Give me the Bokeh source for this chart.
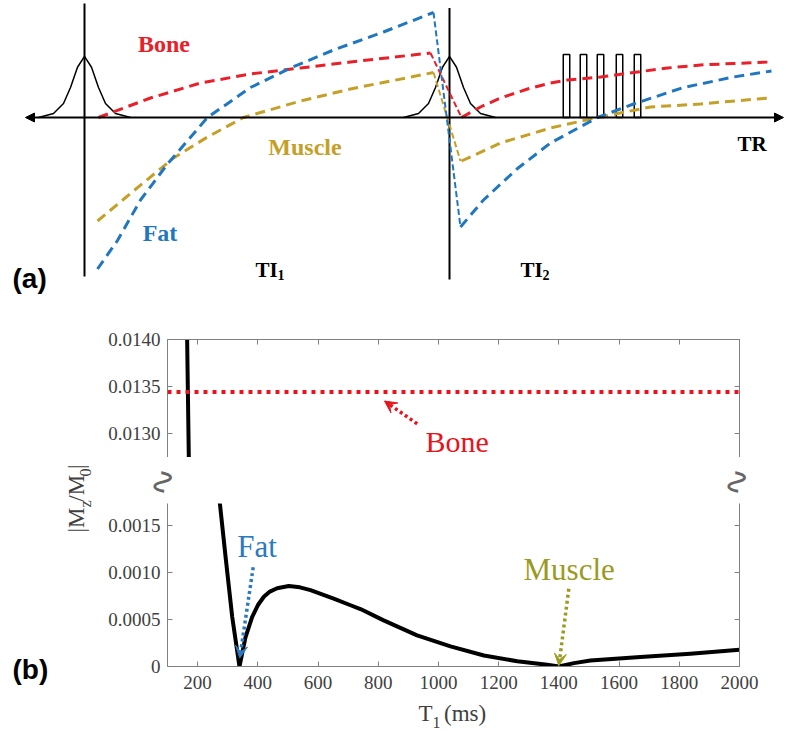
import math
from bokeh.plotting import figure
from bokeh.layouts import column
from bokeh.models import (Range1d, LinearAxis, FixedTicker, Label, Arrow, NormalHead,
                          VeeHead, Span, PrintfTickFormatter, CustomJSTickFormatter)
from bokeh.embed import file_html
from bokeh.resources import INLINE

# ------------------------------------------------------------------
# (a) schematic data  (time in arbitrary units, Mz in arbitrary units)
# ------------------------------------------------------------------
pulse_t = [0, 365]                      # inversion pulses (TI1 apart)
pulse_dt = [-46, -31, -21, -14, -7, 0, 7, 14, 21, 31, 46]
pulse_shape = [0, 0.027, 0.093, 0.2, 0.335, 0.407, 0.335, 0.2, 0.093, 0.027, 0]
marker_top = [0.76, 0.73]
marker_bottom = [-1.06, -1.08]
readout_t = [482, 499, 516, 535, 553]
readout_h = 0.42
readout_w = 6.5
time_axis = [-59, 699]

bone1_t = [14, 66, 116, 166, 216, 266, 346]
bone1_m = [0.0, 0.13, 0.23, 0.29, 0.33, 0.37, 0.43]
bone_drop_t = [346, 377]
bone_drop_m = [0.43, 0.0]
bone2_t = [377, 396, 416, 443, 466, 483, 516, 549, 583, 616, 649, 686]
bone2_m = [0.0, 0.07, 0.13, 0.19, 0.23, 0.25, 0.27, 0.30, 0.33, 0.35, 0.36, 0.37]

fat1_t = [13, 33, 56, 83, 123, 166, 206, 249, 299, 349]
fat1_m = [-1.01, -0.82, -0.55, -0.31, 0.0, 0.20, 0.33, 0.45, 0.57, 0.70]
fat_drop_t = [349, 376]
fat_drop_m = [0.70, -0.73]
fat2_t = [376, 399, 433, 466, 513, 549, 599, 649, 687]
fat2_m = [-0.73, -0.55, -0.34, -0.17, 0.0, 0.09, 0.20, 0.27, 0.31]

mus1_t = [13, 49, 89, 123, 159, 216, 266, 349]
mus1_m = [-0.69, -0.49, -0.27, -0.13, 0.0, 0.11, 0.19, 0.30]
mus_drop_t = [349, 376]
mus_drop_m = [0.30, -0.29]
mus2_t = [377, 416, 466, 513, 566, 616, 684]
mus2_m = [-0.29, -0.17, -0.07, 0.0, 0.07, 0.09, 0.13]

# ------------------------------------------------------------------
# (b) |Mz/M0| versus T1
# ------------------------------------------------------------------
t1_ms = [158, 165, 171, 180, 190, 200, 215, 230, 245, 260, 274, 293, 315, 339,
         359, 381, 400, 420, 440, 464, 503, 540, 575, 652, 708, 741, 818, 929,
         1040, 1151, 1262, 1361, 1400, 1450, 1505, 1671, 1837, 2000]
mz_abs = [0.0149, 0.01405, 0.01270, 0.0109, 0.0092, 0.0078, 0.0060, 0.0045,
          0.0033, 0.0024, 0.00173, 0.00116, 0.000525, 0.0,
          0.00031, 0.000525, 0.00065, 0.00074, 0.000795, 0.00083, 0.000854,
          0.00084, 0.00081, 0.00072, 0.00065, 0.00061, 0.00049, 0.00033,
          0.000213, 0.000117, 0.000056, 0.000018, 0.0, 0.000036, 0.000064, 0.0001,
          0.000135, 0.000177]
bone_level = 0.01344
fat_null_t1 = 340
muscle_null_t1 = 1400

x_ticks = [200, 400, 600, 800, 1000, 1200, 1400, 1600, 1800, 2000]
y_ticks_upper = [0.0130, 0.0135, 0.0140]
y_ticks_lower = [0.0, 0.0005, 0.0010, 0.0015]
x_limits = (100, 2000)
upper_limits = (0.012743, 0.0140)
lower_limits = (0.0, 0.00173)

# ------------------------------------------------------------------
RED_A, BLUE_A, GOLD_A = "#e8202a", "#2077c0", "#c5a028"
RED_B, BLUE_B, OLIVE_B = "#e8141c", "#2a7abf", "#9a9a22"
SERIF = "Liberation Serif"
SANS = "Liberation Sans"
AXC = "#808080"
TXC = "#404040"
NB = "\u00a0"

# ---------------- panel (a) ----------------
pa = figure(width=796, height=300, x_range=Range1d(-84, 712), y_range=Range1d(-1.22, 0.78),
            output_backend="svg", toolbar_location=None, min_border=0,
            x_axis_location=None, y_axis_location=None)
pa.outline_line_color = None
pa.xgrid.visible = False
pa.ygrid.visible = False

for c in pulse_t:
    pa.line([c + d for d in pulse_dt], pulse_shape, line_color="black", line_width=1.5)
pa.segment(x0=pulse_t, y0=marker_bottom, x1=pulse_t, y1=marker_top,
           line_color="black", line_width=2)
pa.rect(x=readout_t, y=[readout_h / 2] * len(readout_t), width=readout_w, height=readout_h,
        fill_color=None, line_color="black", line_width=1.5)
pa.add_layout(Arrow(x_start=time_axis[0], y_start=0, x_end=time_axis[1], y_end=0,
                    line_color="black", line_width=2,
                    start=NormalHead(size=9, fill_color="black", line_color="black"),
                    end=NormalHead(size=9, fill_color="black", line_color="black")))

thick = dict(line_width=3, line_dash="10 6")
thin = dict(line_width=2, line_dash="6 3")
for (t, m, col, sty) in [
        (bone1_t, bone1_m, RED_A, thick), (bone_drop_t, bone_drop_m, RED_A, thin), (bone2_t, bone2_m, RED_A, thick),
        (mus1_t, mus1_m, GOLD_A, thick), (mus_drop_t, mus_drop_m, GOLD_A, thin), (mus2_t, mus2_m, GOLD_A, thick),
        (fat1_t, fat1_m, BLUE_A, thick), (fat_drop_t, fat_drop_m, BLUE_A, thin), (fat2_t, fat2_m, BLUE_A, thick)]:
    pa.line(t, m, line_color=col, **sty)


def lab(p, x, y, text, size, color="black", font=SERIF, style="normal",
        align="left", angle=0, place=None):
    l = Label(x=x, y=y, text=text, text_font=font, text_font_size=f"{size}px",
              text_font_style=style, text_color=color, text_align=align,
              text_baseline="middle", angle=angle)
    if place is None:
        p.add_layout(l)
    else:
        p.add_layout(l, place)


def pa_xy(xp, yp):
    return xp - 84, (117 - yp) / 150


lab(pa, *pa_xy(163.5, 43), "Bone", 24, RED_A, style="bold", align="center")
lab(pa, *pa_xy(304.5, 146), "Muscle", 24, GOLD_A, style="bold", align="center")
lab(pa, *pa_xy(159.5, 232), "Fat", 24, BLUE_A, style="bold", align="center")
lab(pa, *pa_xy(255, 269), "TI", 21, style="bold")
lab(pa, *pa_xy(277, 274), "1", 14, style="bold")
lab(pa, *pa_xy(520, 269), "TI", 21, style="bold")
lab(pa, *pa_xy(542, 274), "2", 14, style="bold")
lab(pa, *pa_xy(737, 143.5), "TR", 21, style="bold")
lab(pa, *pa_xy(12, 278), "(a)", 28, font=SANS, style="bold")

# ---------------- panel (b) geometry ----------------
FRAME_L, FRAME_R = 167, 739
B1_PAGE_TOP, B1_FRAME_TOP, B1_FRAME_BOT = 300, 339, 457
B2_PAGE_TOP, B2_FRAME_TOP, B2_FRAME_BOT = 457, 503, 666


def to_x(xp):
    return x_limits[0] + (xp - FRAME_L) * (x_limits[1] - x_limits[0]) / (FRAME_R - FRAME_L)


def b1(xp, yp):
    lo, hi = upper_limits
    return to_x(xp), lo + (B1_FRAME_BOT - yp) * (hi - lo) / (B1_FRAME_BOT - B1_FRAME_TOP)


def b2(xp, yp):
    lo, hi = lower_limits
    return to_x(xp), lo + (B2_FRAME_BOT - yp) * (hi - lo) / (B2_FRAME_BOT - B2_FRAME_TOP)


x_rng = Range1d(*x_limits)


def style_axis(ax, labels=True):
    ax.axis_line_color = AXC
    ax.major_tick_line_color = AXC
    ax.minor_tick_line_color = None
    ax.major_tick_in = 5
    ax.major_tick_out = 0
    ax.major_label_text_font = SERIF
    ax.major_label_text_font_size = "19px"
    ax.major_label_text_color = TXC
    if not labels:
        ax.formatter = CustomJSTickFormatter(code="return ''")
        ax.major_label_standoff = 0


pb1 = figure(width=796, height=B2_PAGE_TOP - B1_PAGE_TOP, x_range=x_rng,
             y_range=Range1d(*upper_limits), output_backend="svg", toolbar_location=None,
             x_axis_location=None, y_axis_location=None,
             min_border_left=FRAME_L, min_border_right=796 - FRAME_R,
             min_border_top=B1_FRAME_TOP - B1_PAGE_TOP, min_border_bottom=0)
pb1.outline_line_color = None
pb1.xgrid.visible = False
pb1.ygrid.visible = False

ax = LinearAxis(ticker=FixedTicker(ticks=y_ticks_upper), formatter=PrintfTickFormatter(format="%.4f"))
style_axis(ax)
ax.major_label_standoff = 7
pb1.add_layout(ax, "left")
ax = LinearAxis(ticker=FixedTicker(ticks=y_ticks_upper))
style_axis(ax, labels=False)
pb1.add_layout(ax, "right")
ax = LinearAxis(ticker=FixedTicker(ticks=x_ticks))
style_axis(ax, labels=False)
pb1.add_layout(ax, "above")

pb1.add_layout(Span(location=bone_level, dimension="width", line_color=RED_B,
                    line_width=4, line_dash="4 5"))
pb1.line(t1_ms, mz_abs, line_color="black", line_width=4, line_join="round")

lab(pb1, *b1(425, 440.5), "Bone", 30, RED_B)
sx, sy = b1(416.7, 423.3)
ex, ey = b1(384, 400.5)
pb1.add_layout(Arrow(x_start=sx, y_start=sy, x_end=ex, y_end=ey, line_color=RED_B,
                     line_width=3.5, line_dash="3 3",
                     end=VeeHead(size=12, fill_color=RED_B, line_color=RED_B)))

pb2 = figure(width=796, height=731 - B2_PAGE_TOP, x_range=x_rng,
             y_range=Range1d(*lower_limits), output_backend="svg", toolbar_location=None,
             x_axis_location=None, y_axis_location=None,
             min_border_left=FRAME_L, min_border_right=796 - FRAME_R,
             min_border_top=B2_FRAME_TOP - B2_PAGE_TOP, min_border_bottom=731 - B2_FRAME_BOT)
pb2.outline_line_color = None
pb2.xgrid.visible = False
pb2.ygrid.visible = False

ax = LinearAxis(ticker=FixedTicker(ticks=y_ticks_lower), formatter=PrintfTickFormatter(format="%.4f"))
style_axis(ax)
ax.major_label_overrides = {0: "0"}
ax.major_label_standoff = 7
pb2.add_layout(ax, "left")
ax = LinearAxis(ticker=FixedTicker(ticks=y_ticks_lower))
style_axis(ax, labels=False)
pb2.add_layout(ax, "right")
ax = LinearAxis(ticker=FixedTicker(ticks=x_ticks), formatter=PrintfTickFormatter(format="%d"))
style_axis(ax)
ax.major_label_standoff = 9
pb2.add_layout(ax, "below")

pb2.line(t1_ms, mz_abs, line_color="black", line_width=4, line_join="round")

# arrows to the nulls
sx, sy = b2(252.7, 566.7)
pb2.add_layout(Arrow(x_start=sx, y_start=sy, x_end=fat_null_t1, y_end=0.00009,
                     line_color=BLUE_B, line_width=3.5, line_dash="3 3",
                     end=VeeHead(size=12, fill_color=BLUE_B, line_color=BLUE_B)))
sx, sy = b2(568.3, 588.3)
pb2.add_layout(Arrow(x_start=sx, y_start=sy, x_end=muscle_null_t1, y_end=0.00001,
                     line_color=OLIVE_B, line_width=3.5, line_dash="3 3",
                     end=VeeHead(size=12, fill_color=OLIVE_B, line_color=OLIVE_B)))
lab(pb2, *b2(236.7, 545.5), "Fat", 31, BLUE_B)
lab(pb2, *b2(523, 569), "Muscle", 31, OLIVE_B)

# x title  T1 (ms)
lab(pb2, *b2(418, 712.5), "T" + NB * 2 + "(ms)", 23, TXC, place="below")
lab(pb2, *b2(432, 721.5), "1", 16, TXC, place="left")

# y title |Mz/M0| : main text and subscripts as two rotated labels
up = math.pi / 2
lab(pb2, *b2(75.5, 532), "|M" + NB + "/M" + NB + "|", 23, TXC, angle=up, place="left")
lab(pb2, *b2(85, 507), "z" + NB * 6 + "0", 16, TXC, angle=up, place="left")

lab(pb2, *b2(12, 669), "(b)", 28, font=SANS, style="bold", place="above")

# axis-break marks (S-shaped squiggles in the gap)
lab(pb2, *b2(163, 481.5), "\u223f", 34, "#666666", font="DejaVu Sans", align="center",
    angle=-up, place="left")
lab(pb2, *b2(737, 481.5), "\u223f", 34, "#666666", font="DejaVu Sans", align="center",
    angle=-up, place="right")

for p in (pa, pb1, pb2):
    p.background_fill_color = "white"
    p.border_fill_color = "white"

open("out.html", "w").write(file_html([pa, column(pb1, pb2, spacing=0)], INLINE))
